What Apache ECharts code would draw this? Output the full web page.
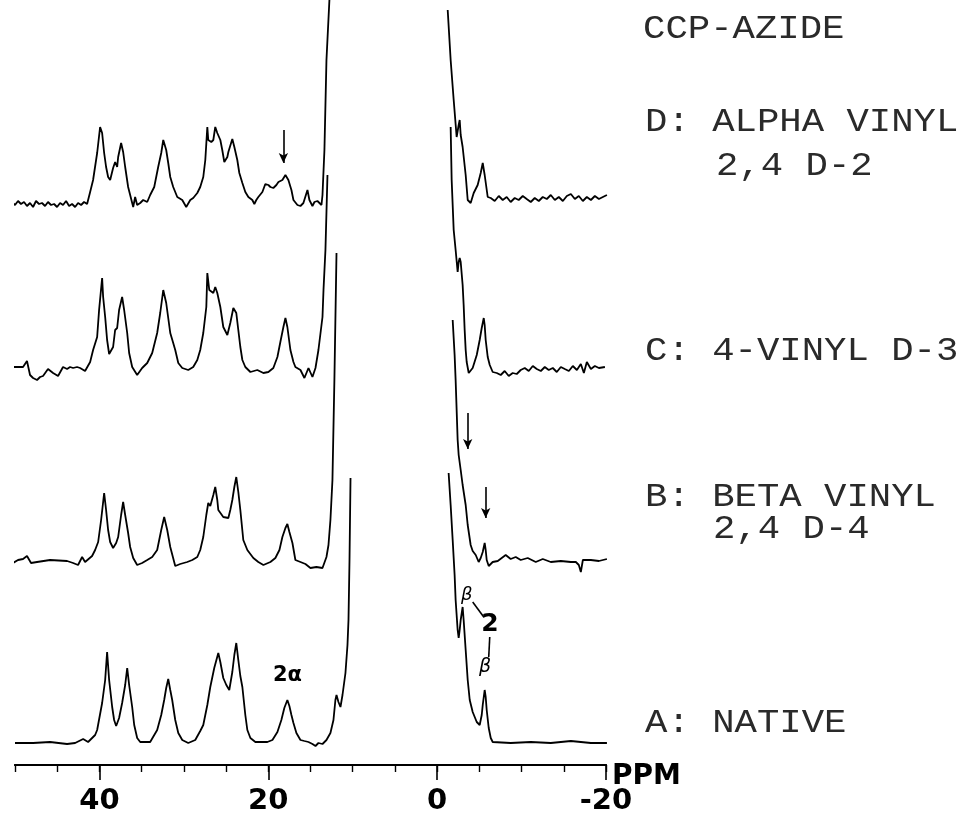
<!DOCTYPE html>
<html><head><meta charset="utf-8">
<script src="https://cdn.jsdelivr.net/npm/echarts@6/dist/echarts.min.js"></script>
<style>html,body{margin:0;padding:0;background:#fff}#c{width:961px;height:816px}</style>
</head><body><div id="c"></div>
<script>
// ppm axis
const ppmMin = -20, ppmMax = 50;
const majorTicks = [-20, 0, 20, 40];

// Trace D (alpha vinyl 2,4 D-2): [ppm, intensity]
const dLeft = [[50.36,-1],[50.0,-4],[49.64,0],[49.29,-3],[48.93,-1],[48.58,-5],[48.22,-2],[47.86,-6],[47.51,0],[47.15,-3],[46.80,-2],[46.44,-5],[46.09,-1],[45.73,-4],[45.37,-3],[45.02,-6],[44.66,-2],[44.31,-4],[43.95,0],[43.59,-5],[43.24,-3],[42.88,-6],[42.53,-2],[42.17,-4],[41.82,-1],[41.46,-3],
  [41.10,9],[40.75,21],[40.27,48],[39.92,74],[39.68,68],[39.44,48],[39.21,34],[38.97,24],[38.73,21],[38.38,33],[38.14,39],[37.90,34],[37.78,44],[37.43,58],[37.19,49],[36.95,34],[36.60,14],[36.00,-6],[35.77,4],[35.53,-4],[35.17,-2],[34.82,1],[34.34,-1],[33.99,6],[33.51,14],[33.04,34],[32.68,48],[32.44,61],[32.09,51],[31.85,38],[31.61,24],[31.26,14],[30.78,4],[30.19,1],[29.72,-6],[29.24,1],[28.89,3],[28.41,8],[28.06,14],[27.70,24],[27.46,41],[27.22,74],[27.11,61],[26.75,59],[26.51,61],[26.28,74],[26.04,68],[25.68,61],[25.45,51],[25.21,39],[24.85,44],[24.73,49],[24.26,62],[24.02,54],[23.67,41],[23.43,28],[23.07,18],[22.72,9],[22.36,4],[21.89,1],[21.65,-3],[21.42,1],[21.18,4],[20.70,9],[20.35,17],[19.99,16],[19.75,14],[19.40,13],[19.04,16],[18.80,19],[18.33,21],[17.97,26],[17.74,24],[17.62,21],[17.26,11],[17.02,1],[16.55,-4],[16.19,-5],[15.84,-2],[15.36,11],[15.13,1],[14.77,-5],[14.53,-1],[14.18,0],[13.70,-4],[13.58,6],[13.35,51],[13.11,141],[12.76,201],[12.52,231]];
const dRight = [[-1.25,191],[-1.60,141],[-1.96,101],[-2.31,64],[-2.55,76],[-2.67,81],[-2.79,66],[-3.02,54],[-3.38,26],[-3.62,1],[-3.97,-2],[-4.33,8],[-4.80,16],[-5.16,28],[-5.40,38],[-5.63,26],[-5.99,4],
  [-6.35,3],[-6.82,0],[-7.30,5],[-7.77,1],[-8.24,4],[-8.71,-1],[-9.19,3],[-9.66,1],[-10.14,5],[-10.61,2],[-11.09,-1],[-11.56,3],[-12.04,0],[-12.51,4],[-12.99,2],[-13.46,6],[-13.94,1],[-14.41,4],[-14.89,0],[-15.36,5],[-15.84,7],[-16.31,2],[-16.78,5],[-17.26,0],[-17.73,4],[-18.21,1],[-18.68,5],[-19.16,2],[-19.63,4],[-20.11,6]];

// Trace C (4-vinyl D-3)
const cLeft = [[50.24,1],[49.64,1],[49.05,1],[48.58,7],[48.22,-7],[47.86,-10],[47.39,-12],[47.03,-9],[46.68,-8],[46.09,-1],[45.49,-5],[44.90,-8],[44.31,1],[43.83,-1],[43.48,1],[43.12,0],[42.65,1],[42.29,0],[41.70,-3],
  [41.10,6],[40.75,18],[40.27,31],[40.04,58],[39.68,90],[39.56,71],[39.32,51],[39.09,28],[38.85,14],[38.38,21],[38.14,38],[37.90,40],[37.67,58],[37.31,71],[37.07,58],[36.71,35],[36.48,15],[36.12,1],[35.53,-7],[34.94,0],[34.34,5],[33.75,15],[33.16,35],[32.80,55],[32.44,78],[32.09,65],[31.61,35],[31.26,25],[31.02,18],[30.66,5],[30.19,0],[29.48,-2],[28.89,1],[28.41,8],[28.06,18],[27.70,35],[27.34,61],[27.22,95],[26.99,78],[26.51,75],[26.28,81],[26.04,75],[25.68,61],[25.33,41],[24.85,33],[24.50,45],[24.14,60],[23.79,55],[23.55,38],[23.31,21],[23.07,8],[22.72,1],[22.12,-4],[21.30,-2],[20.58,-5],[19.99,-4],[19.40,0],[18.92,11],[18.57,26],[18.21,41],[17.97,50],[17.74,41],[17.38,18],[17.02,6],[16.79,1],[16.19,-2],[15.72,-10],[15.24,0],[14.77,-9],[14.41,0],[14.06,18],[13.58,51],[13.46,78],[13.23,118],[12.99,193]];
const cRight = [[-1.60,241],[-1.72,188],[-1.96,138],[-2.19,118],[-2.43,96],[-2.55,106],[-2.67,110],[-2.79,106],[-3.02,83],[-3.14,63],[-3.26,38],[-3.38,18],[-3.50,6],[-3.74,-5],[-3.97,-4],[-4.21,0],[-4.69,13],[-5.04,28],[-5.28,40],[-5.52,50],[-5.63,43],[-5.75,28],[-5.99,11],[-6.23,3],[-6.58,-4],
  [-7.06,-5],[-7.53,-7],[-8.00,-3],[-8.48,-8],[-8.95,-5],[-9.43,-6],[-9.90,-2],[-10.38,0],[-10.85,-3],[-11.33,2],[-11.80,-1],[-12.28,-3],[-12.75,1],[-13.22,-2],[-13.70,0],[-14.17,-4],[-14.65,1],[-15.12,-1],[-15.60,-3],[-16.07,2],[-16.55,-2],[-17.02,4],[-17.38,-5],[-17.73,6],[-18.21,-1],[-18.68,2],[-19.16,0],[-19.87,1]];

// Trace B (beta vinyl 2,4 D-4)
const bLeft = [[50.24,-2],[49.64,1],[49.05,2],[48.58,5],[48.10,-2],[47.39,-1],[45.85,1],[43.83,0],[43.12,-2],[42.53,-4],[42.05,4],[41.70,-1],
  [40.87,5],[40.51,11],[40.15,19],[39.80,41],[39.44,68],[39.21,51],[38.97,31],[38.73,19],[38.38,13],[38.02,18],[37.78,24],[37.43,46],[37.19,59],[36.95,46],[36.60,28],[36.36,14],[36.00,3],[35.53,-4],[34.94,-2],[34.34,1],[33.75,4],[33.16,11],[32.68,31],[32.33,44],[31.97,31],[31.61,14],[31.02,-5],[30.43,-3],[29.60,-1],[29.00,1],[28.41,4],[28.06,11],[27.70,24],[27.34,46],[27.11,58],[26.87,55],[26.51,66],[26.28,74],[26.04,61],[25.92,51],[25.33,44],[24.73,43],[24.50,51],[24.26,61],[24.02,74],[23.79,84],[23.55,69],[23.31,51],[22.96,21],[22.48,11],[21.77,3],[21.18,-1],[20.58,-4],[19.75,-1],[19.16,3],[18.68,11],[18.33,24],[17.97,33],[17.74,37],[17.50,29],[17.14,18],[16.79,1],[16.19,-1],[15.60,-3],[15.01,-7],[14.30,-6],[13.58,-7],[13.11,4],[12.87,16],[12.64,41],[12.52,61],[12.40,81],[12.17,181],[11.92,308]];
const bRight = [[-1.84,241],[-2.07,206],[-2.19,181],[-2.43,121],[-2.55,106],[-2.79,91],[-3.02,76],[-3.38,56],[-3.62,36],[-3.97,16],[-4.21,10],[-4.57,6],[-4.92,-1],[-5.16,3],[-5.40,9],[-5.63,18],[-5.75,11],[-5.87,1],[-6.11,-5],[-6.58,-1],[-7.18,0],[-8.12,6],[-8.71,2],[-9.31,4],[-9.90,1],[-10.73,3],[-11.68,-1],[-12.51,2],[-13.46,-1],[-14.65,0],[-15.84,-1],[-16.43,-1],[-16.78,-4],[-17.02,-11],[-17.26,1],[-18.21,1],[-19.16,0],[-20.11,2]];

// Trace A (native)
const aLeft = [[50.0,0],[47.86,0],[45.85,1],[43.83,-1],[42.88,0],[41.93,4],[41.34,1],[40.51,8],[40.27,13],[39.68,40],[39.32,63],[39.09,91],[38.85,63],[38.49,36],[38.26,23],[38.02,17],[37.67,25],[37.31,40],[36.95,58],[36.71,75],[36.48,58],[36.12,36],[35.88,18],[35.53,5],[35.17,1],[33.99,1],[33.16,13],[32.68,28],[32.33,43],[32.09,55],[31.85,64],[31.61,53],[31.38,43],[31.02,23],[30.66,10],[30.19,3],[29.48,0],[28.65,3],[28.06,12],[27.70,18],[27.22,38],[26.87,56],[26.40,75],[25.92,90],[25.68,81],[25.33,65],[24.97,58],[24.62,53],[24.26,71],[24.02,88],[23.79,100],[23.55,83],[23.31,67],[23.07,56],[22.72,28],[22.48,13],[22.12,5],[21.53,1],[20.11,1],[19.51,3],[18.92,11],[18.45,23],[18.10,35],[17.74,43],[17.50,37],[17.26,28],[17.02,20],[16.67,10],[16.19,3],[15.72,2],[15.24,1],[14.77,-1],[14.41,-3],[14.06,0],[13.58,-1],[13.11,3],[12.64,10],[12.28,23],[12.05,43],[11.92,48],[11.69,41],[11.45,36],[11.21,48],[10.86,70],[10.62,98],[10.50,123],[10.38,183],[10.26,265]];
const aRight = [[-1.36,270],[-1.60,238],[-1.84,203],[-2.07,168],[-2.19,143],[-2.43,113],[-2.55,105],[-2.67,113],[-2.79,123],[-3.02,136],[-3.14,123],[-3.38,93],[-3.62,63],[-3.86,43],[-4.21,31],[-4.69,21],[-5.04,18],[-5.28,28],[-5.40,38],[-5.63,53],[-5.75,46],[-5.87,33],[-6.11,15],[-6.35,5],[-6.58,1],[-8.71,0],[-11.09,1],[-13.46,0],[-15.84,2],[-18.21,0],[-20.11,0]];

// Annotation arrows / connectors: [ppm, intensity from, intensity to]
const arrowD = [18.21, 71, 38];
const arrowB1 = [-3.62, 148, 112];
const arrowB2 = [-5.75, 74, 43];
const connA1 = [[-4.21, 141], [-5.52, 126]];
const connA2 = [[-6.23, 106], [-6.11, 86]];

const labels = [
  {t:'CCP-AZIDE', x:643, y:29},
  {t:'D: ALPHA VINYL', x:645, y:122},
  {t:'2,4 D-2', x:716, y:166},
  {t:'C: 4-VINYL D-3', x:645, y:351},
  {t:'B: BETA VINYL', x:645, y:497},
  {t:'2,4 D-4', x:713, y:529},
  {t:'A: NATIVE', x:645, y:723}
];

const chart = echarts.init(document.getElementById('c'), null, {renderer:'canvas'});
const L = 15, W = 591;
const grids = [
  {left:L, width:W, top:1, height:240},
  {left:L, width:W, top:168, height:240},
  {left:L, width:W, top:361, height:240},
  {left:L, width:W, top:543, height:222},
  {left:L, width:W, top:700, height:65}
];
const hiddenX = i => ({type:'value', gridIndex:i, min:ppmMin, max:ppmMax, inverse:true, show:false});
const yAx = (i, mn, mx) => ({type:'value', gridIndex:i, min:mn, max:mx, show:false});
const lineSty = {color:'#000', width:1.8};
function ser(data, idx, extra) {
  return Object.assign({type:'line', data:data, xAxisIndex:idx, yAxisIndex:idx, showSymbol:false, symbol:'none',
    clip:false, silent:true, lineStyle:lineSty, z:3}, extra||{});
}
function arrowML(a) {
  return [{coord:[a[0], a[1]]}, {coord:[a[0], a[2]]}];
}
const mlBase = {silent:true, animation:false, label:{show:false}, lineStyle:{color:'#000', width:1.6, type:'solid'}};

chart.setOption({
  animation:false,
  backgroundColor:'#fff',
  grid: grids,
  xAxis: [hiddenX(0), hiddenX(1), hiddenX(2),
    {type:'value', gridIndex:3, min:ppmMin, max:ppmMax, inverse:true, interval:20, position:'bottom',
     axisLine:{show:true, onZero:false, lineStyle:{color:'#000', width:2}},
     axisTick:{show:true, customValues:majorTicks, length:15, lineStyle:{color:'#000', width:1.6}},
     axisLabel:{show:true, customValues:majorTicks, margin:22, color:'#000', fontFamily:'DejaVu Sans', fontWeight:'bold', fontSize:29},
     splitLine:{show:false}},
    {type:'value', gridIndex:4, min:ppmMin, max:ppmMax, inverse:true, interval:5, position:'bottom',
     axisLine:{show:true, onZero:false, lineStyle:{color:'#000', width:2}},
     axisTick:{show:true, length:7, lineStyle:{color:'#000', width:1.4}},
     axisLabel:{show:false}, splitLine:{show:false}}
  ],
  yAxis: [yAx(0,-40,200), yAx(1,-40,200), yAx(2,-40,200), yAx(3,-22,200), yAx(4,0,1)],
  series: [
    ser(dLeft, 0, {markLine: Object.assign({}, mlBase, {symbol:['none','arrow'], symbolSize:[7,10], data:[arrowML(arrowD)]})}),
    ser(dRight, 0),
    ser(cLeft, 1),
    ser(cRight, 1),
    ser(bLeft, 2),
    ser(bRight, 2, {markLine: Object.assign({}, mlBase, {symbol:['none','arrow'], symbolSize:[7,10], data:[arrowML(arrowB1), arrowML(arrowB2)]})}),
    ser(aLeft, 3),
    ser(aRight, 3, {markLine: Object.assign({}, mlBase, {symbol:['none','none'], data:[
      [{coord:connA1[0]}, {coord:connA1[1]}], [{coord:connA2[0]}, {coord:connA2[1]}]]})})
  ],
  graphic: labels.map(l => ({type:'text', x:l.x, y:l.y, scaleX:1.13, silent:true,
      style:{text:l.t, x:0, y:0, fill:'#2a2a2a', font:'33px "Liberation Mono"', textVerticalAlign:'middle', textAlign:'left'}}))
    .concat([
      {type:'text', x:612, y:777, silent:true, style:{text:'PPM', fill:'#000', font:'bold 28px "DejaVu Sans"', textVerticalAlign:'middle'}},
      {type:'text', x:273, y:676, silent:true, style:{text:'2α', fill:'#000', font:'bold 21px "DejaVu Sans"', textVerticalAlign:'middle'}},
      {type:'text', x:461, y:595, silent:true, style:{text:'β', fill:'#000', font:'italic 18px "DejaVu Sans"', textVerticalAlign:'middle'}},
      {type:'text', x:490, y:624, silent:true, style:{text:'2', fill:'#000', font:'bold 25px "DejaVu Sans"', textVerticalAlign:'middle', textAlign:'center'}},
      {type:'text', x:479, y:667, silent:true, style:{text:'β', fill:'#000', font:'italic 19px "DejaVu Sans"', textVerticalAlign:'middle'}}
    ])
});
</script></body></html>
